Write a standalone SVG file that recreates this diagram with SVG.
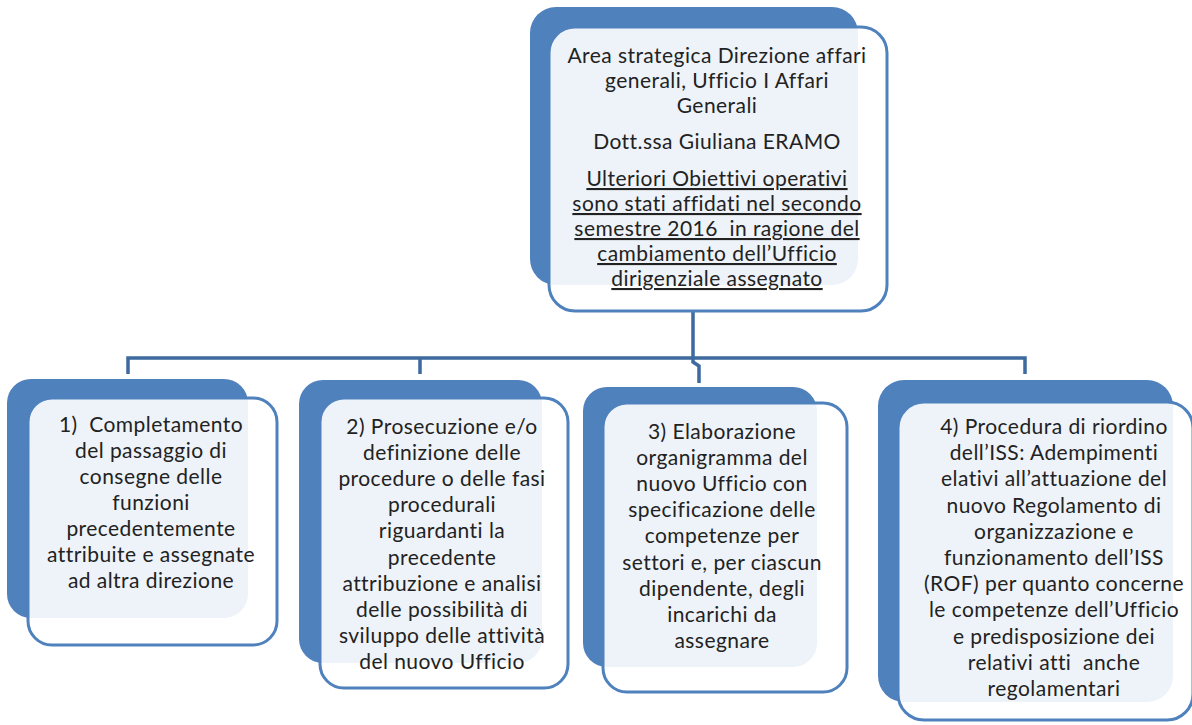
<svg xmlns="http://www.w3.org/2000/svg" width="1192" height="725" viewBox="0 0 1192 725">
<style>
.back{fill:#4f81bd;}
.front{fill:#ffffff;fill-opacity:0.9;stroke:#4f81bd;stroke-width:3;}
.conn{fill:none;stroke:#3d6a9f;stroke-width:3.5;}
text{font-family:Lato,"Liberation Sans",sans-serif;font-size:21px;letter-spacing:0.45px;fill:#222222;text-anchor:middle;white-space:pre;}
.u{text-decoration:underline;}
</style>
<rect width="1192" height="725" fill="#ffffff"/>
<g id="connectors">
<path class="conn" d="M693 311 V358 M128 374 V358 H1025 V374 M420 358 V374 M693 358 V362 L699 366 V383"/>
</g>
<g id="top">
<rect class="back" x="530" y="7" width="328" height="278" rx="26"/>
<rect class="front" x="549" y="27" width="338" height="284" rx="26"/>
<text><tspan x="717" y="63">Area strategica Direzione affari</tspan><tspan x="717" y="88">generali, Ufficio I Affari</tspan><tspan x="717" y="113">Generali</tspan><tspan x="717" y="149">Dott.ssa Giuliana ERAMO</tspan></text>
<text class="u"><tspan x="717" y="186">Ulteriori Obiettivi operativi</tspan><tspan x="717" y="211">sono stati affidati nel secondo</tspan><tspan x="717" y="236">semestre 2016  in ragione del</tspan><tspan x="717" y="261">cambiamento dell’Ufficio</tspan><tspan x="717" y="286">dirigenziale assegnato</tspan></text>
</g>
<g id="node1">
<rect class="back" x="7" y="379" width="241" height="239" rx="24"/>
<rect class="front" x="28" y="398" width="249" height="247" rx="24"/>
<text><tspan x="151" y="432">1)  Completamento</tspan><tspan x="151" y="458">del passaggio di</tspan><tspan x="151" y="484">consegne delle</tspan><tspan x="151" y="510">funzioni</tspan><tspan x="151" y="536">precedentemente</tspan><tspan x="151" y="562">attribuite e assegnate</tspan><tspan x="151" y="588">ad altra direzione</tspan></text>
</g>
<g id="node2">
<rect class="back" x="299" y="380" width="243" height="283" rx="24"/>
<rect class="front" x="320" y="398" width="248" height="290" rx="24"/>
<text><tspan x="442" y="434">2) Prosecuzione e/o</tspan><tspan x="442" y="460">definizione delle</tspan><tspan x="442" y="486">procedure o delle fasi</tspan><tspan x="442" y="512">procedurali</tspan><tspan x="442" y="538">riguardanti la</tspan><tspan x="442" y="565">precedente</tspan><tspan x="442" y="591">attribuzione e analisi</tspan><tspan x="442" y="617">delle possibilità di</tspan><tspan x="442" y="643">sviluppo delle attività</tspan><tspan x="442" y="669">del nuovo Ufficio</tspan></text>
</g>
<g id="node3">
<rect class="back" x="583" y="387" width="234" height="280" rx="24"/>
<rect class="front" x="603" y="403" width="244" height="289" rx="24"/>
<text><tspan x="722" y="439">3) Elaborazione</tspan><tspan x="722" y="465">organigramma del</tspan><tspan x="722" y="491">nuovo Ufficio con</tspan><tspan x="722" y="517">specificazione delle</tspan><tspan x="722" y="543">competenze per</tspan><tspan x="722" y="570">settori e, per ciascun</tspan><tspan x="722" y="596">dipendente, degli</tspan><tspan x="722" y="622">incarichi da</tspan><tspan x="722" y="648">assegnare</tspan></text>
</g>
<g id="node4">
<rect class="back" x="878" y="380" width="295" height="322" rx="26"/>
<rect class="front" x="898" y="402" width="295" height="318" rx="26"/>
<text><tspan x="1054" y="434">4) Procedura di riordino</tspan><tspan x="1054" y="460">dell’ISS: Adempimenti</tspan><tspan x="1054" y="486">elativi all’attuazione del</tspan><tspan x="1054" y="513">nuovo Regolamento di</tspan><tspan x="1054" y="539">organizzazione e</tspan><tspan x="1054" y="565">funzionamento dell’ISS</tspan><tspan x="1054" y="591">(ROF) per quanto concerne</tspan><tspan x="1054" y="617">le competenze dell’Ufficio</tspan><tspan x="1054" y="644">e predisposizione dei</tspan><tspan x="1054" y="670">relativi atti  anche</tspan><tspan x="1054" y="696">regolamentari</tspan></text>
</g>
</svg>
